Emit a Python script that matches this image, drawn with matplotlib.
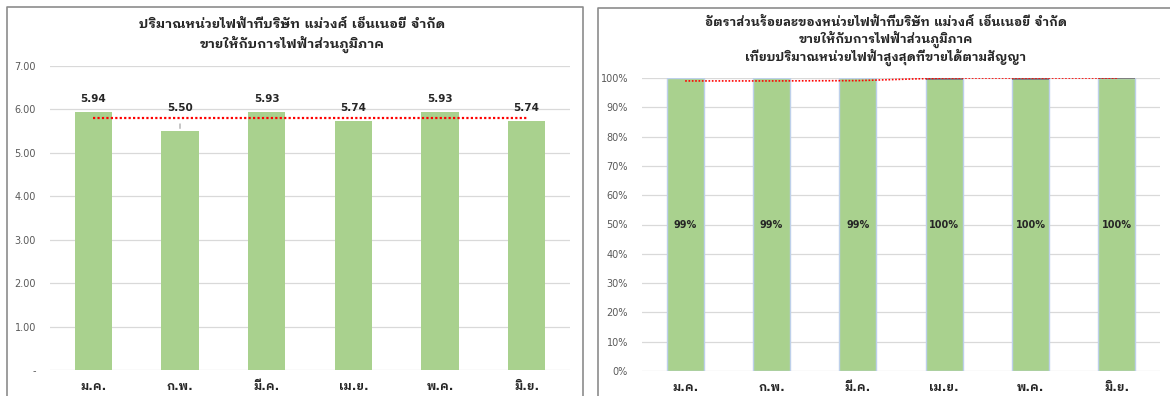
import matplotlib
matplotlib.use("Agg")
import matplotlib.pyplot as plt
from matplotlib.lines import Line2D

# Thai text needs a Thai font; digits/latin come from DejaVu Sans first
FONT = ["DejaVu Sans", "IBM Plex Sans Thai Looped", "Noto Sans Thai"]
plt.rcParams["font.family"] = FONT

months = ["ม.ค.", "ก.พ.", "มี.ค.", "เม.ย.", "พ.ค.", "มิ.ย."]

# left chart: units sold (million kWh)
units = [5.94, 5.50, 5.93, 5.74, 5.93, 5.74]
units_avg = [5.80, 5.80, 5.80, 5.80, 5.80, 5.80]

# right chart: percent of contracted maximum
pct_label = [99, 99, 99, 100, 100, 100]
pct_full = [100, 100, 100, 100, 100, 100]
pct_over = [0, 0, 0, 0.6, 0.6, 0.5]
pct_line = [99.0, 99.0, 99.1, 100.0, 100.0, 100.0]

title_left = ["ปริมาณหน่วยไฟฟ้าที่บริษัท แม่วงศ์ เอ็นเนอยี่ จำกัด",
              "ขายให้กับการไฟฟ้าส่วนภูมิภาค"]
title_right = ["อัตราส่วนร้อยละของหน่วยไฟฟ้าที่บริษัท แม่วงศ์ เอ็นเนอยี่ จำกัด",
               "ขายให้กับการไฟฟ้าส่วนภูมิภาค",
               "เทียบปริมาณหน่วยไฟฟ้าสูงสุดที่ขายได้ตามสัญญา"]

GREEN = "#A9D18E"
GRID = "#D9D9D9"
TICK = "#595959"
DARK = "#262626"
W, H = 1170, 396

fig = plt.figure(figsize=(W / 100, H / 100), dpi=100)


def px(x0, y0, x1, y1):
    # pixel box -> figure fraction rect
    return [x0 / W, 1 - y1 / H, (x1 - x0) / W, (y1 - y0) / H]


# panel borders (both run off the bottom of the image)
for xs, ys in [([7, 7, 583, 583], [H + 5, 7, 7, H + 5]),
               ([598, 598, W + 5], [H + 5, 8, 8])]:
    fig.add_artist(Line2D([x / W for x in xs], [1 - y / H for y in ys],
                          color="#8C8C8C", lw=1.2))

x = range(len(months))


def style(ax):
    for s in ax.spines.values():
        s.set_visible(False)
    ax.tick_params(length=0)
    ax.tick_params(axis="y", labelsize=7, labelcolor=TICK, pad=10)
    ax.tick_params(axis="x", labelsize=8.5, pad=7)
    ax.set_xticks(list(x))
    ax.set_xticklabels(months, fontweight="bold", color=DARK)
    ax.set_xlim(-0.5, 5.5)
    ax.yaxis.grid(True, color=GRID, lw=0.9)
    ax.set_axisbelow(True)


# ---- left
ax1 = fig.add_axes(px(50, 66, 570, 370))
style(ax1)
ax1.bar(x, units, width=0.43, color=GREEN, zorder=2)
ax1.plot(x, units_avg, color="red", ls=(0, (1, 1)), lw=1.6, zorder=3)
ax1.set_ylim(0, 7)
ax1.set_yticks(range(8))
ax1.set_yticklabels(["-"] + ["%.2f" % v for v in range(1, 8)])
low = min(units)
for i, v in enumerate(units):
    off = 8
    if v == low:
        # label pushed up with a leader line
        off = 18
        ax1.annotate("", xy=(i, v), xytext=(0, 10), textcoords="offset pixels",
                     arrowprops=dict(arrowstyle="-", color="#A6A6A6", lw=0.9))
    ax1.annotate("%.2f" % v, (i, v), xytext=(0, off), textcoords="offset pixels",
                 ha="center", va="bottom", fontsize=7.5, fontweight="bold",
                 color=DARK)
for k, t in enumerate(title_left):
    fig.text(292 / W, 1 - (25 + 19 * k) / H, t, ha="center", va="center",
             fontsize=9.5, fontweight="bold", color=DARK)

# ---- right
ax2 = fig.add_axes(px(642, 78, 1160, 371))
style(ax2)
ax2.bar(x, pct_full, width=0.43, color=GREEN, edgecolor="#BDD0EA", lw=1, zorder=2)
ax2.bar(x, pct_over, width=0.43, bottom=[a - b for a, b in zip(pct_full, pct_over)],
        color="#7F7F7F", lw=0, zorder=2)
ax2.plot(x, pct_line, color="red", ls=(0, (1, 1)), lw=1.2, zorder=3)
ax2.set_ylim(0, 100)
ax2.set_yticks(range(0, 101, 10))
ax2.set_yticklabels(["%d%%" % v for v in range(0, 101, 10)])
for i, v in enumerate(pct_label):
    ax2.text(i, 50, "%d%%" % v, ha="center", va="center", fontsize=7,
             fontweight="bold", color=DARK, zorder=4)
for k, t in enumerate(title_right):
    fig.text(886 / W, 1 - (22 + 17.5 * k) / H, t, ha="center", va="center",
             fontsize=9, fontweight="bold", color=DARK)

fig.savefig("out.png", dpi=100)
